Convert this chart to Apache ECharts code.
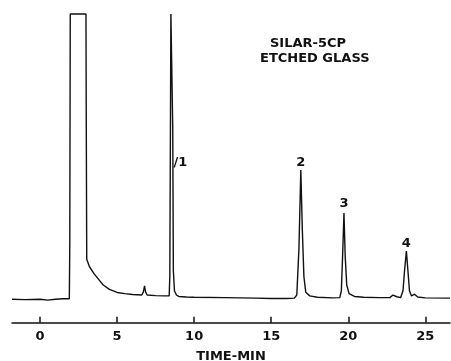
<!DOCTYPE html>
<html>
<head>
<meta charset="utf-8">
<script src="https://cdn.jsdelivr.net/npm/echarts@6/dist/echarts.min.js"></script>
<style>html,body{margin:0;padding:0;background:#fff;}#c{width:451px;height:361px;}</style>
</head>
<body>
<div id="c"></div>
<script>
// Retention time (min) and detector signal (arbitrary units, 100 = clipped full scale)
var time = [-1.82,-1.0,0,0.5,1.0,1.5,1.9,1.93,1.96,2.98,3.0,3.03,3.2,3.5,3.8,4.1,4.5,5.0,5.5,6.0,6.6,6.7,6.78,6.85,6.95,7.5,8.0,8.38,8.42,8.46,8.49,8.58,8.61,8.65,8.72,8.85,9.0,9.5,10,12,14,15,16,16.5,16.66,16.8,16.92,17.02,17.12,17.24,17.5,18,19,19.45,19.55,19.63,19.72,19.8,19.9,20.05,20.4,21,22,22.7,22.9,23.0,23.15,23.4,23.55,23.65,23.77,23.87,23.97,24.1,24.3,24.5,25,26.6];
var signal = [0.0,-0.1,0.0,-0.3,0.0,0.2,0.2,20,100,100,60,14,11.5,9.0,7.0,5.0,3.5,2.4,2.0,1.7,1.5,2.5,4.7,2.5,1.5,1.3,1.2,1.2,8,60,100,100,60,10,3,1.5,1.0,0.8,0.7,0.6,0.4,0.3,0.3,0.4,1.5,18,45.3,24,8,2.5,1.2,0.7,0.5,0.6,3,15,30.2,15,5,2,1,0.7,0.6,0.6,1.5,1.9,0.9,0.6,3,10,16.9,10,3,1.2,1.8,0.8,0.5,0.4];
var tickLabels = [0,5,10,15,20,25];
var peakNames = ['/1','2','3','4'];
var peakTimes = [9.1,16.92,19.72,23.77];
var peakValues = [48,45.3,30.2,16.9];
var titleLines = ['SILAR-5CP','ETCHED GLASS'];

var data = time.map(function(t,i){return [t, signal[i]];});
var font = 'DejaVu Sans';
var marks = peakNames.map(function(n,i){
  return {name:n, coord:[peakTimes[i], peakValues[i]],
    label:{position: i===0 ? 'inside' : 'top', distance: i===2 ? 3 : 1}};
});

var chart = echarts.init(document.getElementById('c'));
chart.setOption({
  animation:false,
  backgroundColor:'#fff',
  grid:{left:12,right:1,top:14,bottom:38.3,containLabel:false,outerBoundsMode:'none'},
  xAxis:{
    type:'value', min:-1.82, max:26.6,
    splitLine:{show:false},
    axisLine:{show:true,onZero:false,lineStyle:{color:'#111',width:1.5}},
    axisTick:{show:true,inside:true,length:6,customValues:tickLabels,lineStyle:{color:'#111',width:1.5}},
    axisLabel:{customValues:tickLabels,margin:7,color:'#111',fontFamily:font,fontWeight:'bold',fontSize:13},
    name:'TIME-MIN', nameLocation:'middle', nameGap:27,
    nameTextStyle:{color:'#111',fontFamily:font,fontWeight:'bold',fontSize:13}
  },
  yAxis:{type:'value',min:-8.2,max:100,show:false,splitLine:{show:false}},
  series:[{
    type:'line', data:data, showSymbol:false, clip:false,
    lineStyle:{color:'#111',width:1.4},
    markPoint:{
      symbol:'circle', symbolSize:0,
      label:{show:true,formatter:'{b}',color:'#111',fontFamily:font,fontWeight:'bold',fontSize:13},
      data:marks
    }
  }],
  graphic:[
    {type:'text',left:270,top:37,style:{text:titleLines[0],fill:'#111',font:'bold 13px "DejaVu Sans"'}},
    {type:'text',left:260,top:52,style:{text:titleLines[1],fill:'#111',font:'bold 13px "DejaVu Sans"'}}
  ]
});
</script>
</body>
</html>
